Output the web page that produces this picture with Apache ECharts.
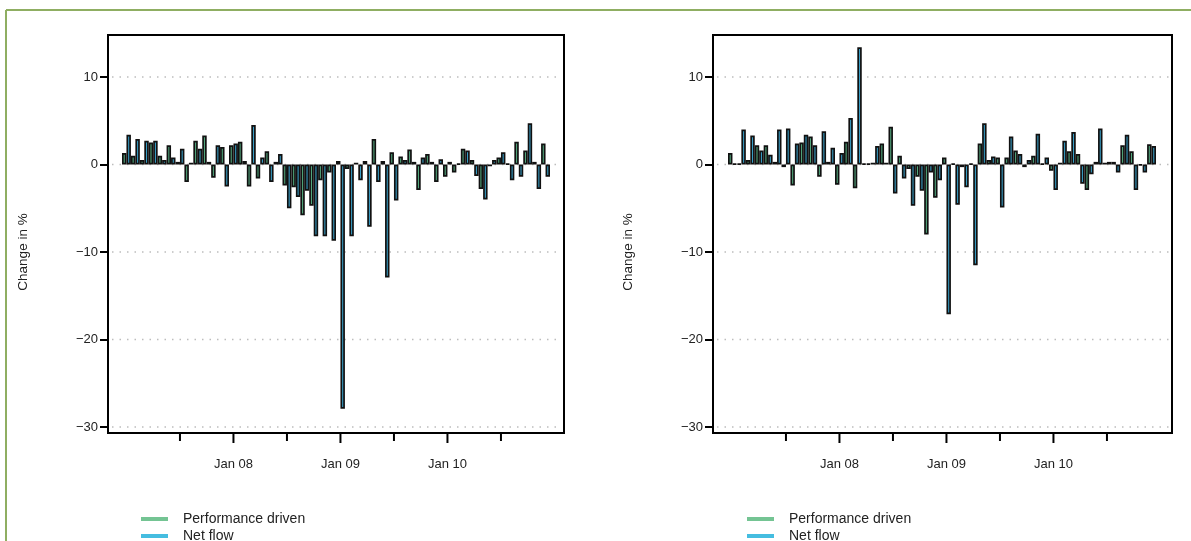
<!DOCTYPE html>
<html><head><meta charset="utf-8">
<script src="https://cdn.jsdelivr.net/npm/echarts@6/dist/echarts.min.js"></script>
<style>html,body{margin:0;padding:0;background:#fff}#c{width:1191px;height:541px}</style>
</head><body><div id="c"></div>
<script>
const months = [
  'Jan 07','Feb 07','Mar 07','Apr 07','May 07','Jun 07','Jul 07','Aug 07','Sep 07','Oct 07','Nov 07','Dec 07',
  'Jan 08','Feb 08','Mar 08','Apr 08','May 08','Jun 08','Jul 08','Aug 08','Sep 08','Oct 08','Nov 08','Dec 08',
  'Jan 09','Feb 09','Mar 09','Apr 09','May 09','Jun 09','Jul 09','Aug 09','Sep 09','Oct 09','Nov 09','Dec 09',
  'Jan 10','Feb 10','Mar 10','Apr 10','May 10','Jun 10','Jul 10','Aug 10','Sep 10','Oct 10','Nov 10','Dec 10'
];
const labelledMonths = ['Jan 08','Jan 09','Jan 10'];
const tickedMonths = ['Jul 07','Jan 08','Jul 08','Jan 09','Jul 09','Jan 10','Jul 10'];
const yTickValues = [-30, -20, -10, 0, 10];
const seriesNames = ['Performance driven', 'Net flow'];
const yAxisTitle = 'Change in %';

const leftPerformance = [1.3,1.0,0.5,2.5,1.0,2.2,0.3,-2.0,2.7,3.3,-1.5,2.0,
  2.2,2.6,-2.5,-1.6,1.5,0.3,-2.4,-2.6,-5.8,-4.7,-1.8,-0.9,
  0.4,-0.5,0.2,0.4,2.9,0.4,1.4,0.9,1.7,-2.9,1.2,-2.0,
  -1.4,-0.9,1.8,0.5,-2.8,-0.2,0.8,0.1,2.6,1.6,0.3,2.4];
const leftNetFlow = [3.4,2.9,2.7,2.7,0.5,0.8,1.8,0.2,1.8,0.3,2.2,-2.5,
  2.4,0.4,4.5,0.8,-2.0,1.2,-5.0,-3.7,-3.0,-8.2,-8.2,-8.7,
  -27.9,-8.2,-1.8,-7.1,-2.0,-12.9,-4.1,0.5,0.3,0.8,0.3,0.6,
  0.3,0.1,1.6,-1.3,-4.0,0.5,1.4,-1.8,-1.4,4.7,-2.8,-1.4];
const rightPerformance = [1.3,0.1,0.5,2.2,2.2,0.3,-0.3,-2.4,2.5,3.2,-1.4,0.3,
  -2.3,2.6,-2.7,0.1,0.2,2.4,4.3,1.0,-0.5,-1.4,-8.0,-3.8,
  0.8,0.1,-0.3,0.1,2.4,0.5,0.8,0.8,1.6,-0.3,1.0,0.1,
  -0.7,0.2,1.5,1.2,-2.9,0.3,0.2,0.3,2.2,1.5,-0.1,2.3];
const rightNetFlow = [0.1,4.0,3.3,1.6,1.1,4.0,4.1,2.4,3.4,2.2,3.8,1.9,
  1.3,5.3,13.4,0.1,2.1,0.2,-3.3,-1.6,-4.7,-3.0,-0.9,-1.8,
  -17.1,-4.6,-2.6,-11.5,4.7,0.9,-4.9,3.2,1.2,0.5,3.5,0.8,
  -2.9,2.7,3.7,-2.2,-1.1,4.1,0.3,-0.9,3.4,-2.9,-0.9,2.1];

const FONT = "'Liberation Sans', Arial, sans-serif";
const perfColor = '#52a67c', netColor = '#389ec6';
const legendColors = ['#74c493', '#45bde0'];

const panels = [
  {box:[108,35,456,398], gridLeft:122, legendLeft:136, perf:leftPerformance, net:leftNetFlow},
  {box:[713,35,459,398], gridLeft:728, legendLeft:742, perf:rightPerformance, net:rightNetFlow}
];

const grid=[], xAxis=[], yAxis=[], series=[], legend=[], baseGraphic=[];
panels.forEach((p,i)=>{
  grid.push({left:p.gridLeft, top:77, width:428, height:350, containLabel:false});
  xAxis.push({
    type:'category', gridIndex:i, data:months, position:'bottom', offset:6,
    boundaryGap:true,
    axisLine:{show:false},
    axisTick:{show:false},
    axisLabel:{show:true, margin:25, fontFamily:FONT, fontSize:13, color:'#222',
      interval:(idx)=>labelledMonths.includes(months[idx])},
    splitLine:{show:false}
  });
  yAxis.push({
    type:'value', gridIndex:i, min:yTickValues[0], max:yTickValues[yTickValues.length-1], interval:10,
    offset:p.gridLeft-p.box[0],
    name:yAxisTitle, nameLocation:'middle', nameGap:78,
    nameTextStyle:{fontFamily:FONT, fontSize:13.5, color:'#222'},
    axisLine:{show:false},
    axisTick:{show:true, length:8, lineStyle:{color:'#000', width:2}},
    axisLabel:{margin:10, fontFamily:FONT, fontSize:13, color:'#222',
      formatter:(v)=>String(v).replace('-', '\u2212')},
    splitLine:{show:false}
  });
  series.push({
    name:seriesNames[0], type:'bar', xAxisIndex:i, yAxisIndex:i, data:p.perf, clip:false,
    barGap:'0%', barCategoryGap:'0%',
    itemStyle:{color:perfColor, borderColor:'#111', borderWidth:1.7}
  });
  series.push({
    name:seriesNames[1], type:'bar', xAxisIndex:i, yAxisIndex:i, data:p.net, clip:false,
    barGap:'0%', barCategoryGap:'0%',
    itemStyle:{color:netColor, borderColor:'#111', borderWidth:1.7}
  });
  seriesNames.forEach((nm,j)=>{
    legend.push({
      left:p.legendLeft, top:507 + j*17, itemWidth:27, itemHeight:4, icon:'rect',
      selectedMode:false,
      textStyle:{fontFamily:FONT, fontSize:14, color:'#222', padding:[0,0,0,10]},
      data:[{name:nm, itemStyle:{color:legendColors[j], borderWidth:0}}]
    });
  });
  baseGraphic.push({type:'rect', z:100, shape:{x:p.box[0], y:p.box[1], width:p.box[2], height:p.box[3]},
    style:{fill:null, stroke:'#000', lineWidth:2}});
});
baseGraphic.push(
  {type:'line', shape:{x1:6, y1:10, x2:1191, y2:10}, style:{stroke:'#8fae62', lineWidth:2}},
  {type:'line', shape:{x1:6, y1:10, x2:6, y2:541}, style:{stroke:'#8fae62', lineWidth:2}}
);

const chart = echarts.init(document.getElementById('c'), null, {renderer:'canvas'});
chart.setOption({animation:false, backgroundColor:'#fff', grid, xAxis, yAxis, series, legend, graphic:baseGraphic});

// dotted gridlines across the frame and x ticks, positioned through the axes' own scales
const extra = [];
panels.forEach((p,i)=>{
  yTickValues.forEach(v=>{
    const y = chart.convertToPixel({yAxisIndex:i}, v);
    extra.push({type:'line', z:-1, shape:{x1:p.box[0]+4, y1:y, x2:p.box[0]+p.box[2]-2, y2:y},
      style:{stroke:'#bdbdbd', lineWidth:1.5, lineDash:[1.5,6]}});
  });
  const yb = p.box[1]+p.box[3];
  tickedMonths.forEach(m=>{
    const x = chart.convertToPixel({xAxisIndex:i}, m);
    const len = labelledMonths.includes(m) ? 10 : 8;
    extra.push({type:'line', z:100, shape:{x1:x, y1:yb, x2:x, y2:yb+len},
      style:{stroke:'#000', lineWidth:2}});
  });
});
chart.setOption({graphic: baseGraphic.concat(extra)});
</script></body></html>
